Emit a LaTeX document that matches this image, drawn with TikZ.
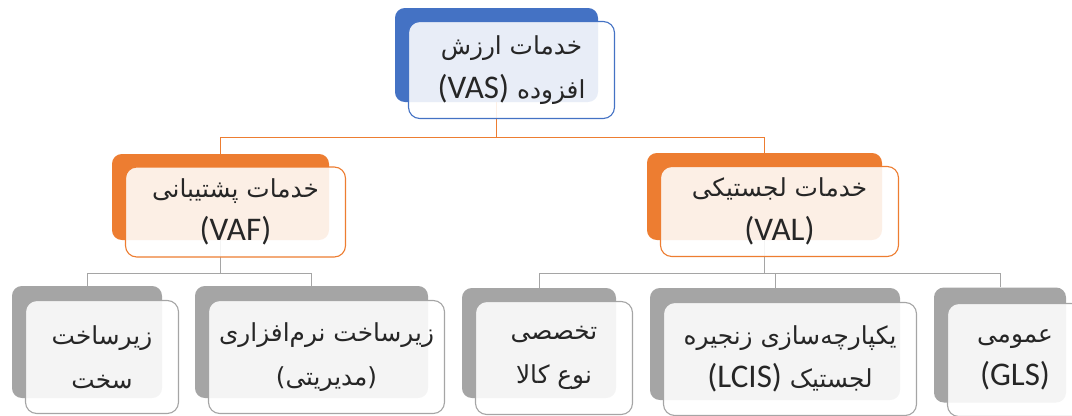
\documentclass[tikz,border=0pt]{standalone}
\usepackage{fontspec}
\setmainfont{Carlito}
\newfontfamily\fa[Script=Arabic, Scale=0.75]{DejaVu Sans}
\TeXXeTstate=1
\usetikzlibrary{positioning}

\definecolor{vasblue}{HTML}{4472C4}
\definecolor{valorange}{HTML}{ED7D31}
\definecolor{subgray}{HTML}{A5A5A5}
\definecolor{textgray}{HTML}{262626}
\newcommand{\fatext}[1]{{\fa\beginR #1\endR}}

\begin{document}
\begin{tikzpicture} [
    x=0.025cm, y=-0.025cm,
    font=\fontsize{23.5}{31}\selectfont,
    shadowbox/.style n args={3}{fill=#1, rounded corners=7pt, inner sep=0pt,
        minimum width=#2*0.025cm, minimum height=#3*0.025cm},
    facebox/.style n args={3}{draw=#1, line width=0.8pt, fill=white,
        fill opacity=0.88, text opacity=1, text=textgray,
        rounded corners=8pt, inner sep=0pt, align=center,
        minimum width=#2*0.025cm, minimum height=#3*0.025cm},
    orangeline/.style={draw=valorange, line width=0.9pt},
    grayline/.style={draw=subgray, line width=0.7pt}]
    \useasboundingbox (0,0) rectangle (1072,415);
    % \draw [help lines, step=50] (0,0) grid (1072,415);

    % coloured boxes behind
    \node (vas) [shadowbox={vasblue}{203}{94}] at (496.5,55) {};
    \node (vaf) [shadowbox={valorange}{217}{86}] at (220.5,197) {};
    \node (val) [shadowbox={valorange}{235}{87}] at (764.5,196.5) {};
    \node (hw) [shadowbox={subgray}{150}{112}] at (87,342) {};
    \node (sw) [shadowbox={subgray}{233}{112}] at (311.5,342) {};
    \node (spec) [shadowbox={subgray}{154}{110}] at (539,343) {};
    \node (lcis) [shadowbox={subgray}{250}{112}] at (775,344) {};
    \node (gls) [shadowbox={subgray}{132}{115}] at (1000,345) {};

    % tree lines
    \path (vas.south) ++(0,35) coordinate (vasbus);
    \path (vaf.south) ++(0,33) coordinate (vafbus);
    \path (val.south) ++(0,33) coordinate (valbus);
    \draw [orangeline] (vas.south) -- (vasbus) -| (vaf.north);
    \draw [orangeline] (vasbus) -| (val.north);
    \draw [grayline] (vaf.south) -- (vafbus) -| (hw.north);
    \draw [grayline] (vafbus) -| (sw.north);
    \draw [grayline] (val.south) -- (valbus) -| (spec.north);
    \draw [grayline] (valbus) -| (lcis.north);
    \draw [grayline] (valbus) -| (gls.north);

    % white boxes with the text
    \node (vasf) [facebox={vasblue}{206}{97}]
        at ([shift={(15,15)}]vas.center)
        {\fatext{خدمات ارزش}\\\fatext{افزوده \beginL{\rmfamily(VAS)}\endL}};
    \node (vaff) [facebox={valorange}{220}{90}]
        at ([shift={(15,15)}]vaf.center)
        {\fatext{خدمات پشتیبانی}\\(VAF)};
    \node (valf) [facebox={valorange}{238}{90}]
        at ([shift={(15,15)}]val.center)
        {\fatext{خدمات لجستیکی}\\(VAL)};
    \node (hwf) [facebox={subgray}{153}{113}]
        at ([shift={(15,15)}]hw.center)
        {\fatext{زیرساخت}\\\fatext{سخت}};
    \node (swf) [facebox={subgray}{236}{113}]
        at ([shift={(15,15)}]sw.center)
        {\fatext{زیرساخت نرم‌افزاری}\\\fatext{(مدیریتی)}};
    \node (specf) [facebox={subgray}{157}{113}]
        at ([shift={(15,15)}]spec.center)
        {\fatext{تخصصی}\\\fatext{نوع کالا}};
    \node (lcisf) [facebox={subgray}{253}{113}]
        at ([shift={(15,15)}]lcis.center)
        {\fatext{یکپارچه‌سازی زنجیره}\\\fatext{لجستیک \beginL{\rmfamily(LCIS)}\endL}};
    \node (glsf) [facebox={subgray}{135}{113}]
        at ([shift={(15,15)}]gls.center)
        {\fatext{عمومی}\\(GLS)};
\end{tikzpicture}
\end{document}
